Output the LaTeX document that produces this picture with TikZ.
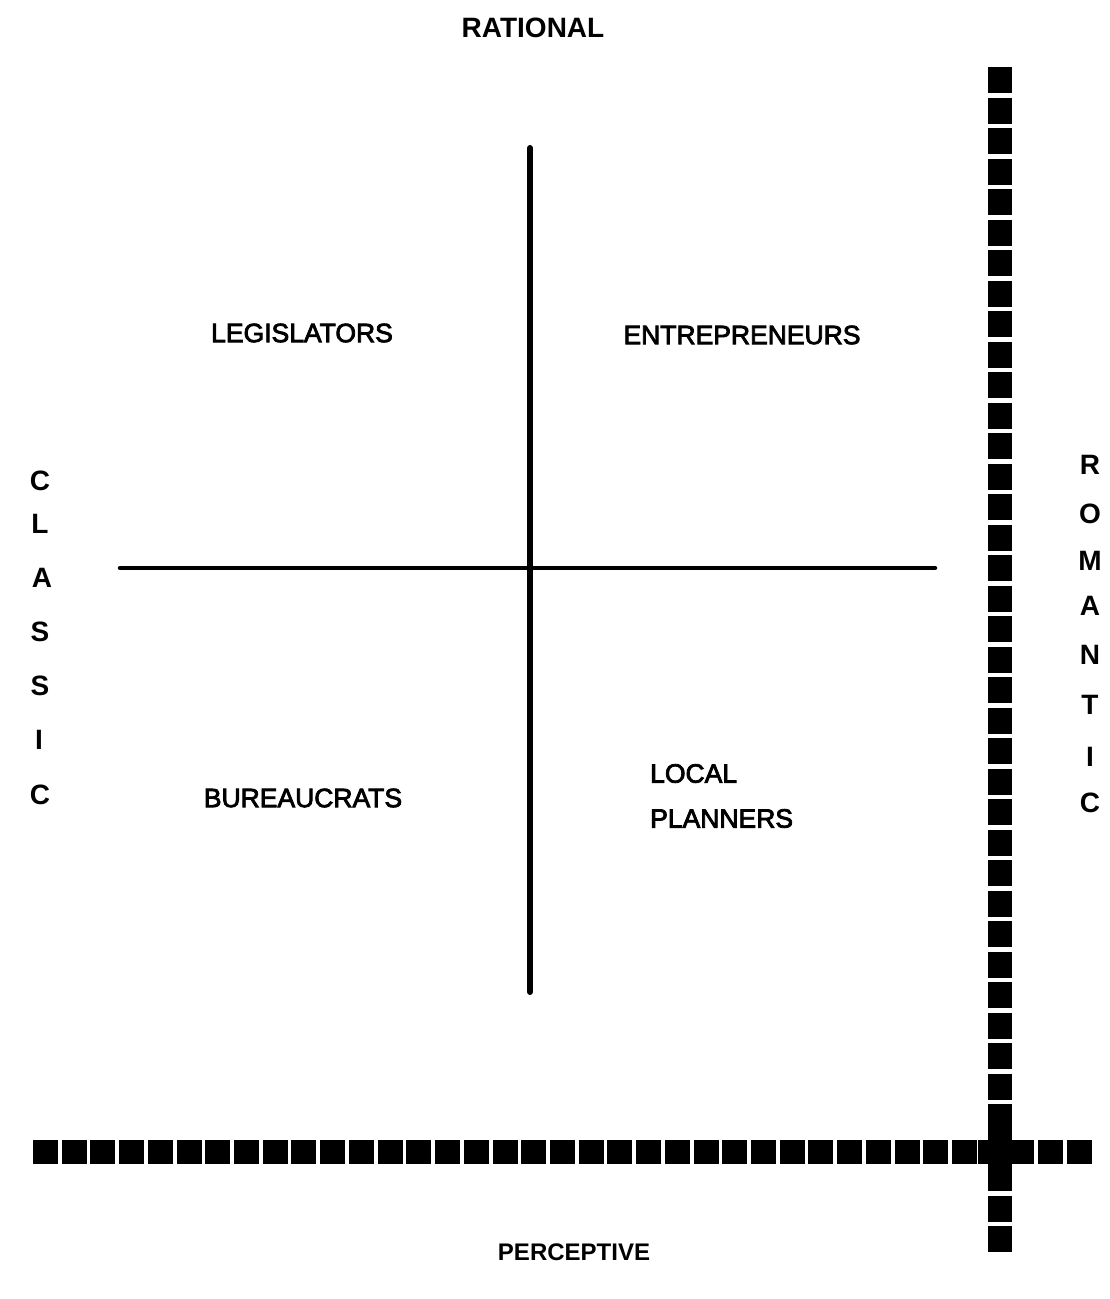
\documentclass[tikz,border=0pt]{standalone}
\usepackage{fontspec}
\setmainfont{Liberation Sans}
\newfontfamily\medfont[FakeBold=3]{Liberation Sans}
\begin{document}
\begin{tikzpicture}[x=1pt,y=-1pt,
  label/.style={inner sep=0pt,font=\medfont\fontsize{26.5}{30}\selectfont},
  pole/.style={inner sep=0pt,font=\fontsize{27}{30}\selectfont\bfseries},
  vletter/.style={inner sep=0pt,font=\fontsize{28}{30}\selectfont\bfseries},
  axis/.style={line width=5pt,line cap=round},
  bar/.style={line width=24pt,line cap=butt}]
\useasboundingbox[fill=white] (0,0) rectangle (1110,1299);
% solid quadrant axes
\coordinate (vt) at (530,148);
\coordinate (vb) at (530,992);
\coordinate (hl) at (120,568);
\coordinate (hr) at (935,568);
\draw[axis,line width=6pt] (vt) -- (vb);
\draw[axis,line width=4.5pt] (hl) -- (hr);
% thick dashed bars
\coordinate (bl) at (33,1152);
\coordinate (br) at (1092,1152);
\coordinate (rt) at (1000,67);
\coordinate (rb) at (1000,1252);
\draw[bar,dash pattern=on 25pt off 3.72pt] (bl) -- (br);
\draw[bar,dash pattern=on 26pt off 4.5pt] (rt) -- (rb);
% solid junction of the two bars
\coordinate (jn) at (1000,1152);
\fill ([xshift=-22pt,yshift=-12pt]jn) rectangle ([xshift=32pt,yshift=12pt]jn);
\fill ([xshift=-12pt,yshift=-27pt]jn) rectangle ([xshift=12pt,yshift=28pt]jn);
% pole labels
\node[pole,font=\fontsize{28}{30}\selectfont\bfseries] (rational) at (533,28) {RATIONAL};
\node[pole,font=\fontsize{24}{26}\selectfont\bfseries] (perceptive) at (574,1252) {PERCEPTIVE};
% quadrant labels
\node[label] (legis) at (302,333) {LEGISLATORS};
\node[label] (entre) at (742,335) {ENTREPRENEURS};
\node[label] (bureau) at (303,798) {BUREAUCRATS};
\node[label,anchor=west,align=left,font=\medfont\fontsize{26.5}{45}\selectfont] (local) at (650,796) {LOCAL\\PLANNERS};
% CLASSIC
\node[vletter] (c1) at (40,481) {C};
\node[vletter] (c2) at (40,524) {L};
\node[vletter] (c3) at (42,578) {A};
\node[vletter] (c4) at (40,632) {S};
\node[vletter] (c5) at (40,686) {S};
\node[vletter] (c6) at (39,740) {I};
\node[vletter] (c7) at (40,795) {C};
% ROMANTIC
\node[vletter] (r1) at (1090,465) {R};
\node[vletter] (r2) at (1090,514) {O};
\node[vletter] (r3) at (1090,561) {M};
\node[vletter] (r4) at (1090,606) {A};
\node[vletter] (r5) at (1090,655) {N};
\node[vletter] (r6) at (1090,705) {T};
\node[vletter] (r7) at (1090,757) {I};
\node[vletter] (r8) at (1090,803) {C};
\end{tikzpicture}
\end{document}
